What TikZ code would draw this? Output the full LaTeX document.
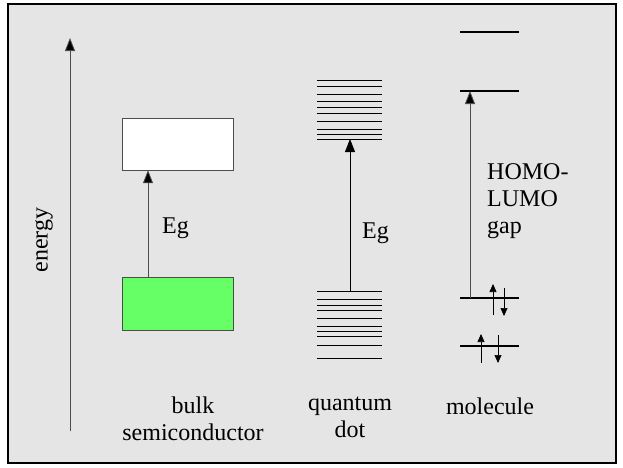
\documentclass[tikz,border=0pt]{standalone}
\usepackage{fontspec}
\setmainfont{Liberation Serif}
\usetikzlibrary{arrows.meta}
\begin{document}
\begin{tikzpicture}[x=1pt,y=-1pt,
  txt/.style={font=\fontsize{24}{27}\selectfont,inner sep=0pt},
  arr/.style={draw=black!70,line width=0.8pt,-{Triangle[length=13pt,width=10pt,fill=black]}},
  lvl/.style={line width=0.7pt},
  mol/.style={line width=1.6pt},
  spin/.style={line width=0.6pt,-{Triangle[length=8pt,width=7pt]}}]
\useasboundingbox (0,0) rectangle (623,467);
\fill[white] (0,0) rectangle (623,467);
\draw[fill=black!10,line width=2pt] (7.5,4) rectangle (615.5,463);
% energy axis
\coordinate (e0) at (70,431);
\coordinate (e1) at (70,38);
\draw[arr] (e0) -- (e1);
\node[txt,rotate=90] (en) at (44,240) {energy};
% bulk
\node[draw=black!70,fill=white,minimum width=111pt,minimum height=52pt,inner sep=0pt] (cb) at (177.5,144) {};
\node[draw=black!70,fill=green!60!white,minimum width=111pt,minimum height=53pt,inner sep=0pt] (vb) at (177.5,303.5) {};
\draw[arr] (vb.north -| 148,0) -- (cb.south -| 148,0);
\node[txt,anchor=west] (eg1) at (162,228) {Eg};
\node[txt,align=center] (bulk) at (193,419) {bulk\\semiconductor};
% quantum dot
\foreach \y in {80.7,86,94,101.7,107.3,113.3,121,129.3,134.3,139}{\draw[lvl] (317,\y) -- (382,\y);}
\foreach \y in {291,299.3,305,310,318.3,326,331,336.7,345,358.3}{\draw[lvl] (317,\y) -- (382,\y);}
\coordinate (qb) at (350,291);
\coordinate (qt) at (350,139);
\draw[arr,draw=black] (qb) -- (qt);
\node[txt,anchor=west] (eg2) at (362,233) {Eg};
\node[txt,align=center] (qd) at (350,417) {quantum\\dot};
% molecule
\draw[mol] (460,32) -- (519,32);
\draw[mol] (460,91) -- (519,91);
\draw[mol] (460,298) -- (519,298);
\draw[mol] (460,346) -- (519,346);
\coordinate (hb) at (470,298);
\coordinate (lt) at (470,91);
\draw[arr] (hb) -- (lt);
\node[txt,anchor=north west,align=left] (gap) at (487,163) {HOMO-\\LUMO\\gap};
\coordinate (s1a) at (493,315); \coordinate (s1b) at (493,284);
\coordinate (s2a) at (504,288); \coordinate (s2b) at (504,316);
\coordinate (s3a) at (481,363); \coordinate (s3b) at (481,334);
\coordinate (s4a) at (498,335); \coordinate (s4b) at (498,363);
\draw[spin] (s1a) -- (s1b);
\draw[spin] (s2a) -- (s2b);
\draw[spin] (s3a) -- (s3b);
\draw[spin] (s4a) -- (s4b);
\node[txt] (mo) at (490,406) {molecule};
\end{tikzpicture}
\end{document}
